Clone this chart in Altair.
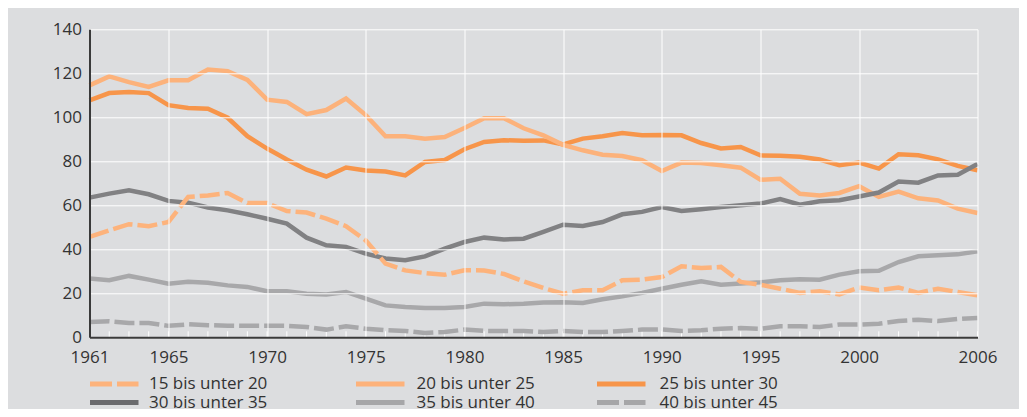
import altair as alt
import pandas as pd

years = list(range(1961, 2007))

categories = [
    "15 bis unter 20",
    "20 bis unter 25",
    "25 bis unter 30",
    "30 bis unter 35",
    "35 bis unter 40",
    "40 bis unter 45",
]

s15 = [45.6, 48.6, 51.4, 50.5, 52.4, 63.8, 64.5, 65.6, 61.0, 61.0,
       57.4, 56.7, 53.9, 50.5, 44.0, 33.5, 30.4, 29.2, 28.4, 30.5,
       30.4, 28.8, 25.4, 22.4, 19.8, 21.4, 21.4, 25.9, 26.2, 27.4,
       32.3, 31.5, 32.0, 25.2, 23.9, 22.1, 20.2, 20.9, 19.5, 22.6,
       21.4, 22.6, 20.2, 22.1, 20.6, 19.1]
s20 = [114.5, 118.6, 116.0, 113.8, 116.8, 116.8, 121.7, 121.0, 117.0, 108.0,
       107.0, 101.4, 103.3, 108.5, 101.0, 91.4, 91.4, 90.3, 91.0, 95.1,
       99.6, 99.6, 95.0, 91.8, 87.5, 85.0, 83.0, 82.4, 80.5, 75.6,
       79.4, 79.2, 78.2, 77.1, 71.6, 72.1, 65.2, 64.5, 65.6, 68.7,
       63.8, 66.2, 63.2, 62.2, 58.5, 56.5]
s25 = [107.7, 111.0, 111.5, 111.0, 105.5, 104.2, 103.9, 99.8, 91.4, 85.8,
       80.8, 76.2, 73.1, 77.2, 75.8, 75.4, 73.6, 79.7, 80.6, 85.5,
       88.8, 89.6, 89.3, 89.5, 87.7, 90.3, 91.4, 92.9, 91.8, 92.0,
       91.8, 88.3, 85.8, 86.5, 82.7, 82.5, 82.1, 80.8, 78.2, 79.4,
       76.7, 83.2, 82.7, 80.9, 77.9, 75.9]
s30 = [63.5, 65.3, 66.8, 65.0, 62.0, 61.2, 59.0, 57.7, 55.9, 53.9,
       51.7, 45.3, 41.8, 41.1, 38.0, 35.8, 35.0, 36.8, 40.3, 43.3,
       45.3, 44.5, 44.8, 47.9, 51.2, 50.6, 52.4, 55.9, 57.0, 59.2,
       57.4, 58.2, 59.2, 60.0, 60.8, 62.8, 60.3, 61.8, 62.3, 64.0,
       65.8, 70.8, 70.3, 73.6, 73.9, 78.8]
s35 = [26.7, 25.9, 27.9, 26.2, 24.4, 25.2, 24.8, 23.6, 22.9, 20.9,
       20.9, 19.8, 19.5, 20.6, 17.6, 14.5, 13.8, 13.3, 13.3, 13.8,
       15.3, 15.0, 15.3, 15.8, 15.9, 15.6, 17.3, 18.6, 20.2, 22.1,
       23.9, 25.5, 23.9, 24.4, 25.0, 25.9, 26.4, 26.2, 28.5, 30.0,
       30.2, 34.2, 36.8, 37.3, 37.7, 39.1]
s40 = [7.0, 7.3, 6.5, 6.5, 5.2, 5.9, 5.5, 5.3, 5.2, 5.2,
       5.2, 4.7, 3.5, 5.0, 3.9, 3.2, 2.9, 2.0, 2.4, 3.5,
       2.9, 2.9, 2.9, 2.4, 2.9, 2.4, 2.4, 2.9, 3.5, 3.6,
       2.9, 3.2, 3.9, 4.2, 3.9, 5.0, 5.0, 4.7, 5.8, 5.8,
       6.2, 7.4, 8.0, 7.4, 8.3, 8.8]

series_values = [s15, s20, s25, s30, s35, s40]

x_label_years = [1961, 1965, 1970, 1975, 1980, 1985, 1990, 1995, 2000, 2006]
y_ticks = [0, 20, 40, 60, 80, 100, 120, 140]

# ---- styles ----
BG = "#dcdddf"
FONT = "Open Sans"
TXT = "#333333"
line_colors = ["#fdb37c", "#fcb27b", "#f7954a", "#818183", "#a8a8aa", "#a8a8aa"]
legend_colors = ["#fdb37c", "#fdb27b", "#f7954a", "#6b6b6e", "#a6a6a8", "#a6a6a8"]
dashed = [True, False, False, False, False, True]
draw_order = [4, 5, 2, 1, 3, 0]

W, H = 888, 308

rows = []
for cat, vals in zip(categories, series_values):
    for yr, v in zip(years, vals):
        rows.append({"year": yr, "series": cat, "value": v})
df = pd.DataFrame(rows)

xscale = alt.Scale(domain=[1961, 2006], nice=False, zero=False)
yscale = alt.Scale(domain=[0, 140], nice=False, zero=True)

xaxis = alt.Axis(values=x_label_years, format="d", title=None, grid=True,
                 gridColor="white", gridWidth=1, gridOpacity=1,
                 domainColor="#3a3a3a", domainWidth=2, ticks=False,
                 labelFontSize=17, labelColor=TXT, labelPadding=12,
                 labelFlush=False, labelFont=FONT, zindex=1)
yaxis = alt.Axis(values=y_ticks, title=None, grid=True,
                 gridColor="white", gridWidth=1, gridOpacity=1,
                 domainColor="#3a3a3a", domainWidth=2, ticks=False,
                 labelFontSize=17, labelColor=TXT, labelPadding=8,
                 labelFont=FONT, zindex=1)

X = alt.X("year:Q", scale=xscale, axis=xaxis)
Y = alt.Y("value:Q", scale=yscale, axis=yaxis)

layers = []

# minor white ticks at each year
tick_df = pd.DataFrame({"year": years})
ticks = alt.Chart(tick_df).mark_rule(color="white", strokeWidth=1).encode(
    x=X, y=alt.value(H), y2=alt.value(H - 6)
)
layers.append(ticks)

for i in draw_order:
    cat = categories[i]
    mk = dict(color=line_colors[i], strokeWidth=4.5, clip=False)
    if dashed[i]:
        mk["strokeDash"] = [20, 5]
    layer = alt.Chart(df).transform_filter(
        alt.datum.series == cat
    ).mark_line(**mk).encode(x=X, y=Y)
    layers.append(layer)

# legend (manual, laid out in 3 columns x 2 rows below the plot)
sym_x = [0.5, 266.5, 507.5]
txt_x = [59.5, 327.0, 570.0]
row_y = [354.6, 373.2]
SYM_LEN = 48.5
for i, cat in enumerate(categories):
    c, r = i % 3, i // 3
    mk = dict(color=legend_colors[i], strokeWidth=5)
    if dashed[i]:
        mk["strokeDash"] = [22, 5]
    d = alt.Data(values=[{"label": cat}])
    layers.append(alt.Chart(d).mark_rule(**mk).encode(
        x=alt.value(sym_x[c]), x2=alt.value(sym_x[c] + SYM_LEN),
        y=alt.value(row_y[r])))
    layers.append(alt.Chart(d).mark_text(
        align="left", baseline="middle", font=FONT, fontSize=17, color=TXT
    ).encode(x=alt.value(txt_x[c]), y=alt.value(row_y[r]), text="label:N"))

chart = alt.layer(*layers).properties(
    width=W, height=H,
    autosize=alt.AutoSizeParams(type="none"),
    padding={"left": 81.5, "top": 21.3, "right": 41.5, "bottom": 71.7},
    background=BG,
).configure_view(stroke=None, fill=BG).configure(font=FONT)

chart.save("out.html", embed_options={"renderer": "svg", "actions": False})
